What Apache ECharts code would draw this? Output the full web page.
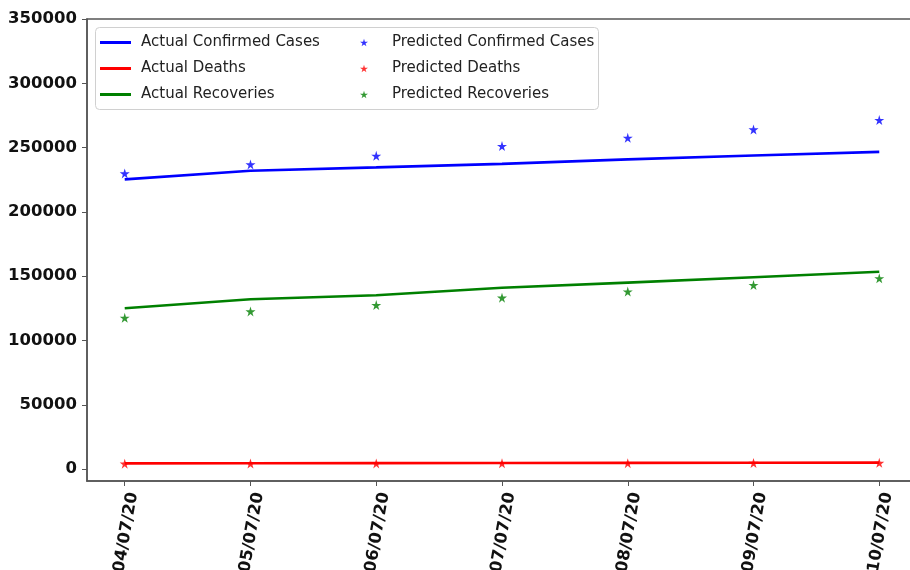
<!DOCTYPE html>
<html><head><meta charset="utf-8">
<script src="https://cdn.jsdelivr.net/npm/echarts@6/dist/echarts.min.js"></script>
<style>html,body{margin:0;padding:0;background:#fff}#c{width:910px;height:570px}</style>
</head><body><div id="c"></div>
<script>
const dates = ['04/07/20','05/07/20','06/07/20','07/07/20','08/07/20','09/07/20','10/07/20'];
const actualConfirmed = [225300, 232000, 234600, 237300, 240800, 243900, 246700];
const actualDeaths = [4400, 4500, 4600, 4700, 4800, 4900, 5000];
const actualRecoveries = [125000, 132000, 135200, 141000, 145000, 149100, 153400];
const predConfirmed = [229900, 236900, 243600, 251200, 257600, 264100, 271400];
const predDeaths = [4200, 4300, 4400, 4500, 4600, 4700, 4800];
const predRecoveries = [117600, 122600, 127500, 133300, 138000, 143100, 148300];
const yTicks = [0, 50000, 100000, 150000, 200000, 250000, 300000, 350000];

const star = 'path://M50,0 L61,35 L98,35 L68,57 L79,91 L50,70 L21,91 L32,57 L2,35 L39,35 Z';
const pair = arr => arr.map((v, i) => [i, v]);
const F = 'DejaVu Sans';

const chart = echarts.init(document.getElementById('c'), null, {renderer: 'canvas'});
const lineS = (name, data, color) => ({
  name, type: 'line', data: pair(data), showSymbol: false, symbol: 'none',
  lineStyle: {color, width: 2.6}, itemStyle: {color}, z: 3, animation: false
});
const scatS = (name, data, color) => ({
  name, type: 'scatter', data: pair(data), symbol: star, symbolSize: 10,
  itemStyle: {color}, z: 4, animation: false
});
chart.setOption({
  animation: false,
  backgroundColor: '#fff',
  grid: {left: 87, top: 19, width: 830, bottom: 89, outerBoundsMode: 'none', containLabel: false,
    show: true, borderColor: '#555', borderWidth: 1.5, backgroundColor: 'transparent'},
  xAxis: {
    type: 'value', min: -0.3, max: 6.3,
    splitLine: {show: false},
    axisLine: {show: true, onZero: false, lineStyle: {color: '#555', width: 1.5}},
    axisTick: {show: true, length: 5, lineStyle: {color: '#555'}, customValues: [0,1,2,3,4,5,6]},
    axisLabel: {customValues: [0,1,2,3,4,5,6], formatter: v => dates[Math.round(v)] || '', rotate: 80, margin: 10,
      verticalAlign: 'top',
      fontFamily: F, fontWeight: 'bold', fontSize: 16.5, color: '#111'}
  },
  yAxis: {
    type: 'value', min: -9300, max: 350000,
    splitLine: {show: false},
    axisLine: {show: true, onZero: false, lineStyle: {color: '#555', width: 1.5}},
    axisTick: {show: true, length: 5, lineStyle: {color: '#555'}, customValues: yTicks},
    axisLabel: {customValues: yTicks, formatter: v => String(v), margin: 10, fontFamily: F, fontWeight: 'bold', fontSize: 16.5, color: '#111'}
  },
  graphic: [{
    type: 'rect', left: 95, top: 27, z: 10,
    shape: {width: 503, height: 82, r: 4},
    style: {fill: 'rgba(255,255,255,0.85)', stroke: '#d0d0d0', lineWidth: 1}
  }],
  legend: [{
    orient: 'vertical', left: 100, top: 35, padding: 0, itemGap: 11, z: 20,
    itemWidth: 31, itemHeight: 3,
    textStyle: {fontFamily: F, fontSize: 15, lineHeight: 15, color: '#222', padding: [0,0,0,5]},
    data: [
      {name: 'Actual Confirmed Cases', icon: 'rect'},
      {name: 'Actual Deaths', icon: 'rect'},
      {name: 'Actual Recoveries', icon: 'rect'}
    ]
  }, {
    orient: 'vertical', left: 360, top: 35, padding: 0, itemGap: 11, z: 20,
    itemWidth: 8, itemHeight: 8,
    textStyle: {fontFamily: F, fontSize: 15, lineHeight: 15, color: '#222', padding: [0,0,0,19]},
    data: [
      {name: 'Predicted Confirmed Cases', icon: star},
      {name: 'Predicted Deaths', icon: star},
      {name: 'Predicted Recoveries', icon: star}
    ]
  }],
  series: [
    lineS('Actual Confirmed Cases', actualConfirmed, '#0000ff'),
    lineS('Actual Deaths', actualDeaths, '#ff0000'),
    lineS('Actual Recoveries', actualRecoveries, '#008000'),
    scatS('Predicted Confirmed Cases', predConfirmed, '#0000ff'),
    scatS('Predicted Deaths', predDeaths, '#ff0000'),
    scatS('Predicted Recoveries', predRecoveries, '#008000')
  ]
});
</script></body></html>
